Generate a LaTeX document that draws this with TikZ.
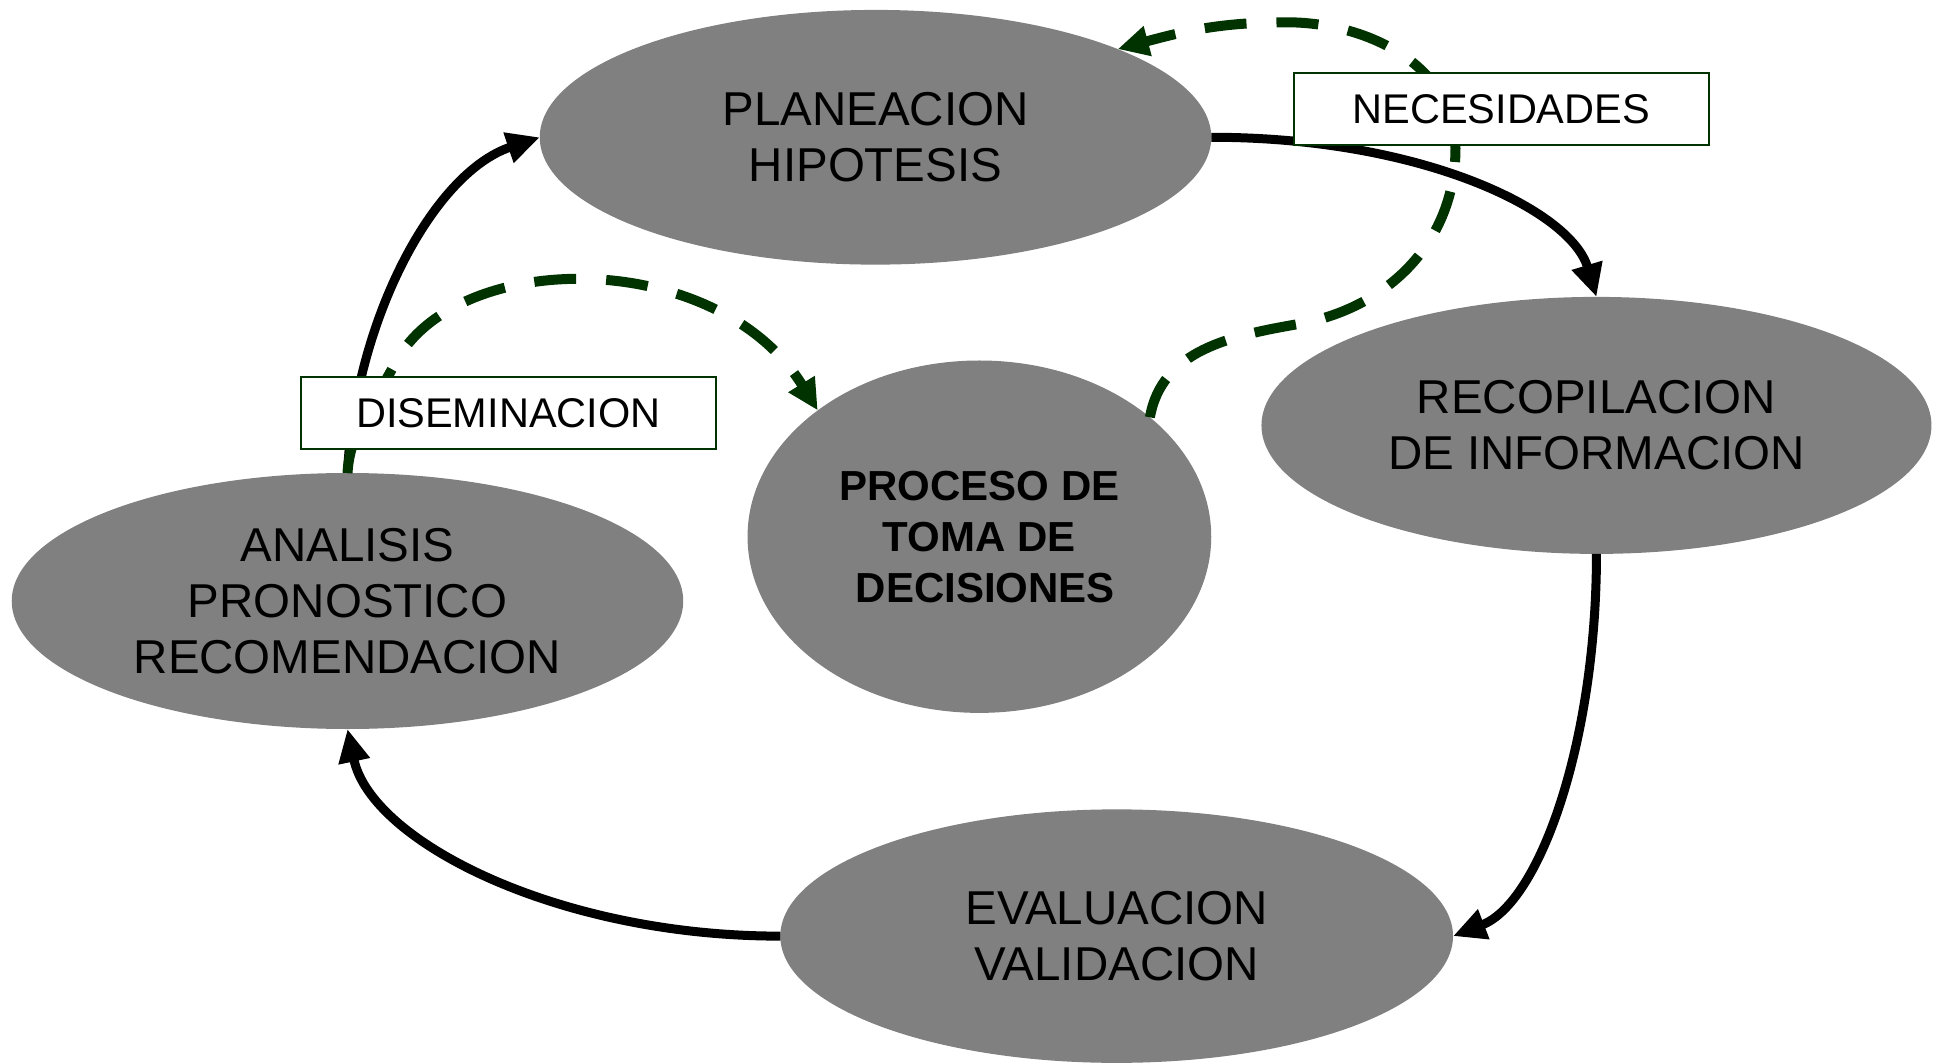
\documentclass[tikz,border=0pt]{standalone}
\usepackage{fontspec}
\setmainfont{Liberation Sans}
\usetikzlibrary{shapes.geometric,arrows.meta}
\definecolor{ellgray}{RGB}{128,128,128}
\definecolor{dgreen}{RGB}{0,51,0}
\begin{document}
\begin{tikzpicture}[x=1.2366pt,y=1.2366pt,
  ell/.style={ellipse, fill=ellgray, inner sep=0pt, outer sep=0pt, align=center, font=\fontsize{47.5}{56}\selectfont},
  lbl/.style={rectangle, draw=dgreen, line width=2pt, fill=white, inner sep=0pt, minimum width=415pt, minimum height=72pt, font=\fontsize{41.5}{48}\selectfont},
  blk/.style={line width=9pt, black, -{Triangle[length=33pt,width=30pt]}},
  grn/.style={line width=10pt, dgreen, dash pattern=on 42pt off 30pt, -{Triangle[length=31pt,width=29pt]}}
]
\useasboundingbox (0,0) rectangle (1568,-860);
\node[ell, minimum width=671.5pt, minimum height=254.7pt] (plan) at (708,-111) {PLANEACION\\HIPOTESIS};
\node[ell, minimum width=670pt, minimum height=257pt] (reco) at (1291,-344) {RECOPILACION\\DE INFORMACION};
\node[ell, minimum width=463.7pt, minimum height=352.4pt, font=\bfseries\fontsize{42}{51}\selectfont] (proc) at (792,-434) {PROCESO DE\\TOMA DE\\\hspace*{12pt}DECISIONES};
\node[ell, minimum width=671.5pt, minimum height=256pt] (anal) at (281,-486) {ANALISIS\\PRONOSTICO\\RECOMENDACION};
\node[ell, minimum width=672.7pt, minimum height=253.5pt] (eval) at (903,-757) {EVALUACION\\VALIDACION};

\draw[blk] (plan.east) .. controls (1150,-111) and (1270,-170) .. (reco.north);
\draw[blk] (reco.south) .. controls (1291,-600) and (1245,-730) .. (eval.east);
\draw[blk] (eval.west) .. controls (450,-757) and (300,-680) .. (anal.south);
\draw[blk] (anal.north) .. controls (287,-260) and (350,-140) .. (plan.west);

\draw[grn] (anal.north) .. controls (283,-350) and (300,-330) .. (320,-293) .. controls (370,-200) and (580,-200) .. (proc.142);
\draw[grn] (proc.35) to[out=80,in=190] (1050,-262) to[out=10,in=-90] (1177,-120) to[out=90,in=0] (1040,-18) to[out=180,in=15] (plan.20);

\node[lbl] (nec) at (1214,-88.5) {NECESIDADES};
\node[lbl] (dis) at (411,-334) {DISEMINACION};
\end{tikzpicture}
\end{document}
